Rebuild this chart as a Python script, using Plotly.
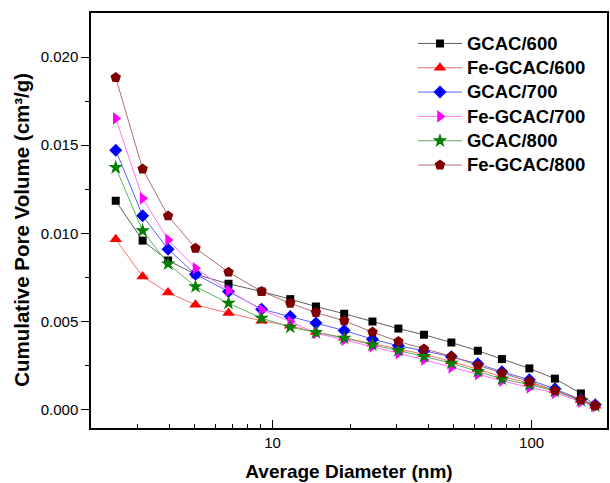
import plotly.graph_objects as go

diameter = [2.48, 3.15, 3.95, 5.04, 6.76, 9.07, 11.7, 14.7, 18.9, 24.3, 30.6, 38.4,
            49.0, 62.0, 76.8, 98.0, 123, 155, 176]

gcac600 = [0.01185, 0.00959, 0.00846, 0.00768, 0.00714, 0.00670, 0.00627, 0.00585,
           0.00544, 0.00500, 0.00460, 0.00425, 0.00381, 0.00334, 0.00287, 0.00234,
           0.00176, 0.00092, 0.00022]
fe_gcac600 = [0.00967, 0.00755, 0.00664, 0.00595, 0.00548, 0.00504, 0.00476, 0.00440,
              0.00408, 0.00374, 0.00342, 0.00314, 0.00274, 0.00230, 0.00187, 0.00150,
              0.00110, 0.00055, 0.00022]
gcac700 = [0.01472, 0.01100, 0.00910, 0.00768, 0.00670, 0.00570, 0.00528, 0.00491,
           0.00449, 0.00400, 0.00362, 0.00334, 0.00300, 0.00260, 0.00215, 0.00170,
           0.00118, 0.00057, 0.00028]
fe_gcac700 = [0.01652, 0.01199, 0.00963, 0.00802, 0.00676, 0.00566, 0.00500, 0.00434,
              0.00396, 0.00359, 0.00321, 0.00283, 0.00240, 0.00202, 0.00164, 0.00126,
              0.00095, 0.00045, 0.00018]
gcac800 = [0.01374, 0.01015, 0.00827, 0.00698, 0.00604, 0.00519, 0.00468, 0.00438,
           0.00406, 0.00368, 0.00336, 0.00302, 0.00264, 0.00217, 0.00174, 0.00142,
           0.00105, 0.00052, 0.00022]
fe_gcac800 = [0.01884, 0.01365, 0.01099, 0.00916, 0.00780, 0.00670, 0.00604, 0.00551,
              0.00504, 0.00440, 0.00387, 0.00344, 0.00302, 0.00251, 0.00208, 0.00160,
              0.00108, 0.00057, 0.00023]

series = [
    ("GCAC/600", gcac600, "square", 8, "#000000", "#606060"),
    ("Fe-GCAC/600", fe_gcac600, "triangle-up", 11, "#FF0000", "#FF7070"),
    ("GCAC/700", gcac700, "diamond", 10, "#0000FF", "#6060FF"),
    ("Fe-GCAC/700", fe_gcac700, "triangle-right", 11, "#FF00FF", "#FF70FF"),
    ("GCAC/800", gcac800, "star", 11, "#008000", "#60B060"),
    ("Fe-GCAC/800", fe_gcac800, "pentagon", 11, "#800000", "#B07070"),
]

fig = go.Figure()
for name, vals, sym, size, mcol, lcol in series:
    fig.add_trace(go.Scatter(
        x=diameter, y=vals, name='<span style="font-size:18.5px">' + name + '</span>',
        mode="lines+markers",
        line=dict(color=lcol, width=1),
        marker=dict(symbol=sym, size=size, color=mcol, line=dict(width=0)),
    ))

font_family = "Liberation Sans, Arial, sans-serif"
fig.update_layout(
    width=610, height=483,
    margin=dict(l=91, r=1, t=13, b=55),
    paper_bgcolor="white", plot_bgcolor="white",
    font=dict(family=font_family, color="black", size=15),
    showlegend=True,
    legend=dict(x=0.624, y=0.968, xanchor="left", yanchor="top",
                font=dict(size=16.4, family=font_family, weight="bold"),
                bgcolor="rgba(0,0,0,0)", borderwidth=0, itemwidth=44,
                tracegroupgap=0),
    annotations=[dict(
        text="Cumulative Pore Volume (cm³/g)", textangle=-90,
        xref="paper", yref="paper", x=-0.136, y=0.477,
        xanchor="center", yanchor="middle", showarrow=False,
        font=dict(size=20.5, weight="bold", family=font_family, color="black"),
    )],
)
fig.update_xaxes(
    type="log", range=[0.299, 2.291],
    showline=True, linecolor="black", linewidth=1.5, mirror=True,
    ticks="inside", ticklen=8, tickwidth=1.2, tickcolor="black",
    tickvals=[10, 100], ticktext=["10", "100"],
    minor=dict(ticks="inside", ticklen=4, tickwidth=1, tickcolor="black",
               tickvals=[3, 4, 5, 6, 7, 8, 9, 20, 30, 40, 50, 60, 70, 80, 90]),
    showgrid=False, zeroline=False,
    tickfont=dict(size=15),
    title=dict(text="Average Diameter (nm)", font=dict(size=19, weight="bold"), standoff=15),
)
fig.update_yaxes(
    range=[-0.00104, 0.0225],
    showline=True, linecolor="black", linewidth=1.5, mirror=True,
    ticks="outside", ticklen=8, tickwidth=1.2, tickcolor="black",
    tickvals=[0, 0.005, 0.010, 0.015, 0.020],
    ticktext=["0.000", "0.005", "0.010", "0.015", "0.020"],
    minor=dict(ticks="outside", ticklen=4, tickwidth=1, tickcolor="black",
               tickvals=[0.0025, 0.0075, 0.0125, 0.0175]),
    showgrid=False, zeroline=False,
    tickfont=dict(size=15),
)

fig.write_html("out.html")
